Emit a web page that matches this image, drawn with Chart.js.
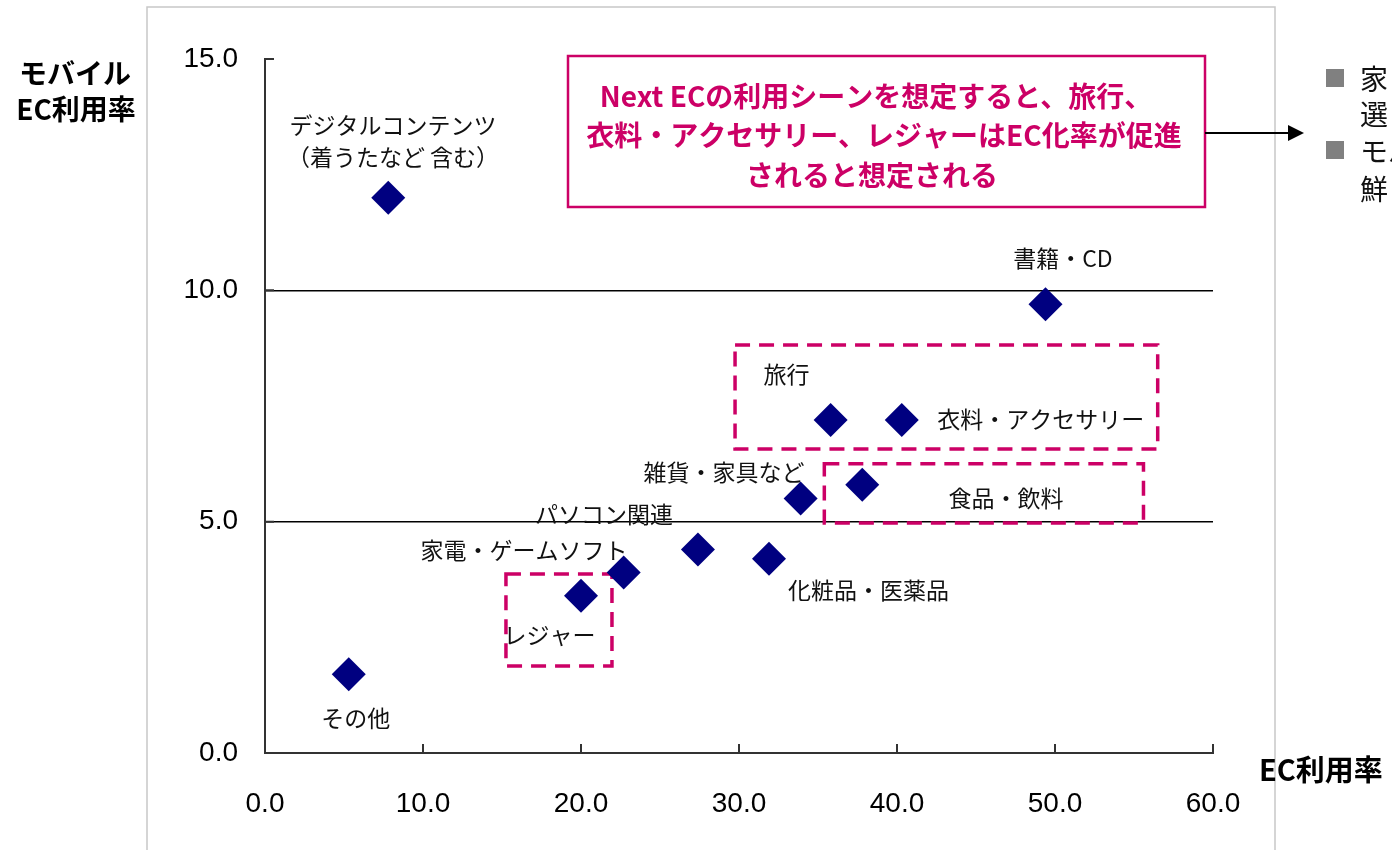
<!DOCTYPE html>
<html>
<head>
<meta charset="utf-8">
<script src="https://cdn.jsdelivr.net/npm/chart.js@4/dist/chart.umd.min.js"></script>
<style>
  html, body { margin: 0; padding: 0; background: #fff; }
  canvas { display: block; }
</style>
</head>
<body>
<canvas id="mainChart" width="1392" height="850"></canvas>
<script>
// カテゴリ別 EC利用率 (x) / モバイルEC利用率 (y)
var categories = ['その他', 'デジタルコンテンツ（着うたなど 含む）', 'レジャー', '家電・ゲームソフト', 'パソコン関連',
  '化粧品・医薬品', '雑貨・家具など', '旅行', '食品・飲料', '衣料・アクセサリー', '書籍・CD'];
var ecRate = [5.3, 7.8, 20.0, 22.7, 27.4, 31.9, 33.9, 35.8, 37.8, 40.3, 49.4];
var mobileRate = [1.7, 12.0, 3.4, 3.9, 4.4, 4.2, 5.5, 7.2, 5.8, 7.2, 9.7];

var xTicks = [0, 10, 20, 30, 40, 50, 60];
var yTicks = [0, 5, 10, 15];

var xTitle = 'EC利用率';
var yTitle = ['モバイル', 'EC利用率'];
var noteLines = ['Next ECの利用シーンを想定すると、旅行、', '衣料・アクセサリー、レジャーはEC化率が促進', 'されると想定される'];
var sideLines = ['家', '選', 'モバ', '鮮'];

// ラベル位置 (データ座標)
var labels = [
  { text: 'デジタルコンテンツ', x: 8.1, y: 13.57 },
  { text: '（着うたなど 含む）', x: 8.1, y: 12.88 },
  { text: '書籍・CD', x: 50.5, y: 10.7 },
  { text: '旅行', x: 33.0, y: 8.19 },
  { text: '衣料・アクセサリー', x: 49.1, y: 7.22 },
  { text: '雑貨・家具など', x: 29.05, y: 6.07 },
  { text: '食品・飲料', x: 46.9, y: 5.51 },
  { text: 'パソコン関連', x: 21.45, y: 5.17 },
  { text: '家電・ゲームソフト', x: 16.4, y: 4.39 },
  { text: '化粧品・医薬品', x: 38.2, y: 3.52 },
  { text: 'レジャー', x: 18.0, y: 2.55 },
  { text: 'その他', x: 5.75, y: 0.76 }
];

// 点線の枠 (データ座標)
var boxes = [
  { x0: 29.75, x1: 56.5, y0: 6.57, y1: 8.82 },
  { x0: 35.4, x1: 55.6, y0: 4.97, y1: 6.25 },
  { x0: 15.25, x1: 21.96, y0: 1.88, y1: 3.87 }
];

var pink = '#cc0066';
var navy = '#000080';
var labelFont = '23px "Noto Sans CJK JP", sans-serif';

var decorations = {
  id: 'decorations',
  beforeDraw: function (chart) {
    var c = chart.ctx;
    c.save();
    c.fillStyle = '#fff';
    c.fillRect(0, 0, chart.width, chart.height);
    // 外枠
    c.strokeStyle = '#c8c8c8';
    c.lineWidth = 1.5;
    c.beginPath();
    c.moveTo(147, 850);
    c.lineTo(147, 7);
    c.lineTo(1275, 7);
    c.lineTo(1275, 850);
    c.stroke();
    c.restore();
  },
  beforeDatasetsDraw: function (chart) {
    var c = chart.ctx, xs = chart.scales.x, ys = chart.scales.y, a = chart.chartArea;
    c.save();
    // 内向きの目盛り
    c.strokeStyle = '#333';
    c.lineWidth = 2;
    c.beginPath();
    xTicks.forEach(function (v) {
      if (v === 0) return;
      var px = xs.getPixelForValue(v);
      c.moveTo(px, a.bottom);
      c.lineTo(px, a.bottom - 9);
    });
    yTicks.forEach(function (v) {
      if (v === 0) return;
      var py = ys.getPixelForValue(v);
      c.moveTo(a.left, py);
      c.lineTo(a.left + 9, py);
    });
    c.stroke();
    // 点線の枠
    c.strokeStyle = pink;
    c.lineWidth = 3.5;
    c.setLineDash([15, 9]);
    boxes.forEach(function (b) {
      var l = xs.getPixelForValue(b.x0), r = xs.getPixelForValue(b.x1);
      var t = ys.getPixelForValue(b.y1), btm = ys.getPixelForValue(b.y0);
      c.strokeRect(l, t, r - l, btm - t);
    });
    c.setLineDash([]);
    // ラベル
    c.fillStyle = '#111';
    c.font = labelFont;
    c.textAlign = 'center';
    c.textBaseline = 'middle';
    labels.forEach(function (lb) {
      c.fillText(lb.text, xs.getPixelForValue(lb.x), ys.getPixelForValue(lb.y));
    });
    c.restore();
  },
  afterDraw: function (chart) {
    var c = chart.ctx;
    c.save();
    // 軸タイトル
    c.fillStyle = '#000';
    c.font = 'bold 28px "Noto Sans CJK JP", sans-serif';
    c.textAlign = 'center';
    c.textBaseline = 'middle';
    c.fillText(yTitle[0], 75, 73);
    c.fillText(yTitle[1], 76, 109);
    c.font = 'bold 29px "Noto Sans CJK JP", sans-serif';
    c.textAlign = 'left';
    c.fillText(xTitle, 1259, 770);
    // 注釈ボックス
    c.fillStyle = '#fff';
    c.fillRect(568, 56, 637, 151);
    c.strokeStyle = pink;
    c.lineWidth = 2.5;
    c.strokeRect(568, 56, 637, 151);
    c.fillStyle = pink;
    c.font = 'bold 28px "Noto Sans CJK JP", sans-serif';
    c.textAlign = 'center';
    c.fillText(noteLines[0], 876, 96);
    c.fillText(noteLines[1], 884, 135);
    c.fillText(noteLines[2], 872, 175);
    // 矢印
    c.strokeStyle = '#000';
    c.lineWidth = 2;
    c.beginPath();
    c.moveTo(1205, 133);
    c.lineTo(1290, 133);
    c.stroke();
    c.fillStyle = '#000';
    c.beginPath();
    c.moveTo(1304, 133);
    c.lineTo(1288, 125);
    c.lineTo(1288, 141);
    c.closePath();
    c.fill();
    // 右側のテキスト
    c.fillStyle = '#808080';
    c.fillRect(1326, 69, 18, 18);
    c.fillRect(1326, 141, 18, 18);
    c.fillStyle = '#111';
    c.font = '28px "Noto Sans CJK JP", sans-serif';
    c.textAlign = 'left';
    c.fillText(sideLines[0], 1360, 79);
    c.fillText(sideLines[1], 1360, 114);
    c.fillText(sideLines[2], 1360, 151);
    c.fillText(sideLines[3], 1360, 189);
    c.restore();
  }
};

var tickFont = { family: '"Liberation Sans", Arial, sans-serif', size: 28 };

var ctx = document.getElementById('mainChart');
var chart = new Chart(ctx, {
  type: 'scatter',
  data: {
    datasets: [{
      label: 'EC利用率',
      data: ecRate.map(function (v, i) { return { x: v, y: mobileRate[i], name: categories[i] }; }),
      pointStyle: 'rectRot',
      pointRadius: 17,
      pointHoverRadius: 17,
      backgroundColor: navy,
      borderColor: navy,
      borderWidth: 0
    }]
  },
  options: {
    responsive: false,
    animation: false,
    layout: { padding: { top: 59, right: 179, bottom: 0, left: 0 } },
    plugins: {
      legend: { display: false },
      tooltip: { enabled: false }
    },
    scales: {
      x: {
        type: 'linear',
        min: 0,
        max: 60,
        afterFit: function (scale) { scale.height = 97; },
        afterBuildTicks: function (scale) { scale.ticks = xTicks.map(function (v) { return { value: v }; }); },
        ticks: {
          font: tickFont,
          color: '#000',
          padding: 34,
          maxRotation: 0,
          callback: function (v) { return v.toFixed(1); }
        },
        grid: { display: false, drawTicks: false },
        border: { display: true, color: '#333', width: 2 }
      },
      y: {
        type: 'linear',
        min: 0,
        max: 15,
        afterFit: function (scale) { scale.width = 265; },
        afterBuildTicks: function (scale) { scale.ticks = yTicks.map(function (v) { return { value: v }; }); },
        ticks: {
          font: tickFont,
          color: '#000',
          padding: 27,
          callback: function (v) { return v.toFixed(1); }
        },
        grid: {
          drawTicks: false,
          lineWidth: 1.5,
          color: function (c) {
            return (c.tick && (c.tick.value === 5 || c.tick.value === 10)) ? '#000' : 'rgba(0,0,0,0)';
          }
        },
        border: { display: true, color: '#333', width: 2 }
      }
    }
  },
  plugins: [decorations]
});
</script>
</body>
</html>
